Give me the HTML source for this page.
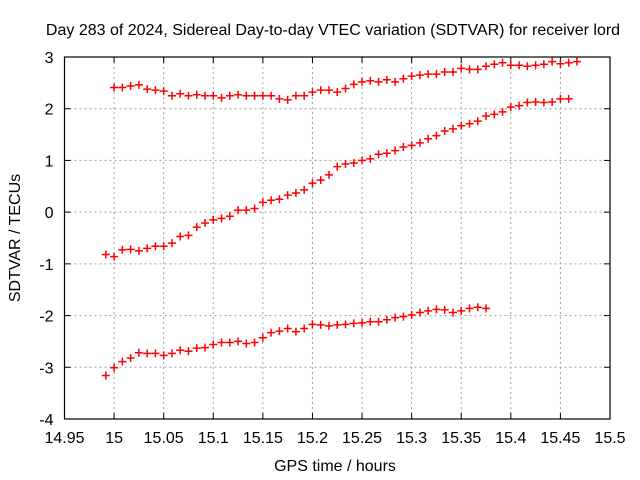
<!DOCTYPE html>
<html><head><meta charset="utf-8"><style>body{margin:0;background:#fff}svg{display:block;font-family:"Liberation Sans",sans-serif}</style></head>
<body>
<svg id="chart" width="640" height="480" xmlns="http://www.w3.org/2000/svg">
<text x="333" y="35" font-size="16" text-anchor="middle">Day 283 of 2024, Sidereal Day-to-day VTEC variation (SDTVAR) for receiver lord</text>
<text transform="translate(20,238) rotate(-90)" font-size="16" text-anchor="middle">SDTVAR / TECUs</text>
<text x="335" y="471" font-size="16" text-anchor="middle">GPS time / hours</text>
<g id="grid"></g><g id="axes"></g><g id="marks"></g>
</svg>
<script>
const xTicks=[14.95,15,15.05,15.1,15.15,15.2,15.25,15.3,15.35,15.4,15.45,15.5];
const xTickLabels=["14.95","15","15.05","15.1","15.15","15.2","15.25","15.3","15.35","15.4","15.45","15.5"];
const yTicks=[-4,-3,-2,-1,0,1,2,3];
const yTickLabels=["-4","-3","-2","-1","0","1","2","3"];
const topStart=15.0;
const topValues=[2.41,2.41,2.44,2.46,2.38,2.36,2.34,2.25,2.29,2.25,2.27,2.25,2.25,2.21,2.25,2.27,2.25,2.25,2.25,2.25,2.19,2.17,2.25,2.25,2.32,2.36,2.36,2.32,
2.39,2.47,2.52,2.54,2.52,2.56,2.52,2.58,2.63,2.65,2.67,2.67,2.71,2.71,2.78,2.76,2.76,2.82,2.86,2.89,2.84,2.84,2.82,2.84,2.86,2.91,2.87,2.89,2.91];
const midStart=14.99167;
const midValues=[-0.82,-0.86,-0.73,-0.72,-0.75,-0.70,-0.66,-0.66,-0.60,-0.47,-0.45,-0.29,-0.21,-0.15,-0.12,-0.08,0.04,0.04,0.07,0.19,0.23,0.25,0.33,0.37,0.43,0.56,0.62,0.72,
0.88,0.93,0.95,1.00,1.03,1.12,1.14,1.19,1.26,1.29,1.34,1.42,1.48,1.57,1.61,1.67,1.71,1.76,1.86,1.89,1.94,2.03,2.06,2.12,2.13,2.12,2.13,2.19,2.19];
const lowStart=14.99167;
const lowValues=[-3.16,-3.01,-2.89,-2.82,-2.72,-2.73,-2.73,-2.77,-2.73,-2.67,-2.69,-2.63,-2.62,-2.56,-2.52,-2.52,-2.50,-2.54,-2.52,-2.43,-2.33,-2.30,-2.25,-2.31,-2.25,-2.17,-2.18,-2.20,-2.18,-2.17,-2.15,-2.14,-2.12,-2.12,-2.08,-2.04,-2.02,-1.99,-1.94,-1.91,-1.88,-1.89,-1.94,-1.91,-1.86,-1.84,-1.86];
const step=1/120;
const L=64.5,R=610,T=57,B=419;
const X=v=>L+(v-14.95)/(15.5-14.95)*(R-L);
const Y=v=>B-(v+4)/7*(B-T);
const NS="http://www.w3.org/2000/svg";
function mk(tag,attrs,parent){const e=document.createElementNS(NS,tag);for(const k in attrs)e.setAttribute(k,attrs[k]);parent.appendChild(e);return e;}
const grid=document.getElementById('grid'),axes=document.getElementById('axes'),marks=document.getElementById('marks');
xTicks.forEach((t,i)=>{const x=X(t);
 if(i>0&&i<xTicks.length-1){const g=mk('line',{x1:x,x2:x,y1:T,y2:B,stroke:'#a0a0a0','stroke-dasharray':'2,3'},grid);
 
 }
 mk('line',{x1:x,x2:x,y1:B,y2:B-6,stroke:'#000'},axes);mk('line',{x1:x,x2:x,y1:T,y2:T+6,stroke:'#000'},axes);
 const tx=mk('text',{x:x,y:B+24,'font-size':16,'text-anchor':'middle'},axes);tx.textContent=xTickLabels[i];
 
 });
yTicks.forEach((t,i)=>{const y=Y(t);
 if(i>0&&i<yTicks.length-1){const g=mk('line',{x1:L,x2:R,y1:y,y2:y,stroke:'#a0a0a0','stroke-dasharray':'2,3'},grid);
 
 }
 mk('line',{x1:L,x2:L+6,y1:y,y2:y,stroke:'#000'},axes);mk('line',{x1:R,x2:R-6,y1:y,y2:y,stroke:'#000'},axes);
 const tx=mk('text',{x:L-11,y:y+6,'font-size':16,'text-anchor':'end'},axes);tx.textContent=yTickLabels[i];
 
 });
const box=mk('rect',{x:L,y:T,width:R-L,height:B-T,fill:'none',stroke:'#000','stroke-width':1.2},axes);


function series(start,vals,name){vals.forEach((v,i)=>{const x=X(start+i*step),y=Y(v);
 const p=mk('path',{d:`M${x-4},${y}H${x+4}M${x},${y-4}V${y+4}`,stroke:'#f00','stroke-width':1.5},marks);
 
 });}
series(topStart,topValues,'top-series-point');
series(midStart,midValues,'middle-series-point');
series(lowStart,lowValues,'bottom-series-point');
</script>
</body></html>
